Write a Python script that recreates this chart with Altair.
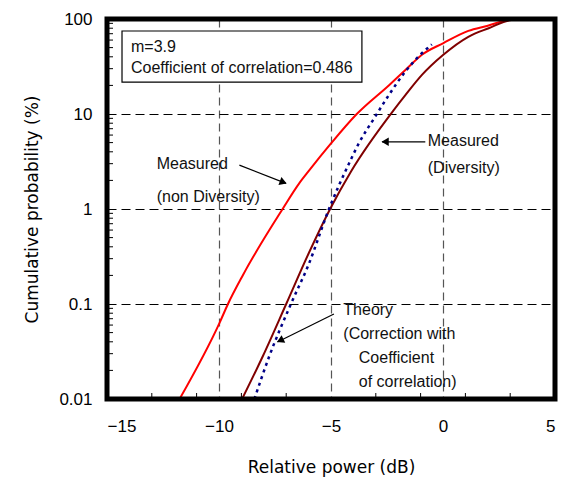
import altair as alt
import pandas as pd

# ---- data ----
red_x = [-11.76, -9.98, -9.6, -8.94, -7.16, -6.42, -6.0, -5.0, -3.85, -2.42, -1.68, -0.94, 0.0, 1.13, 2.0, 2.9, 3.7, 5.0]
red_y = [0.01, 0.063, 0.1, 0.2, 1.0, 1.86, 2.5, 4.9, 10, 20, 29, 42, 55.5, 75, 85, 97.6, 100, 100]

div_x = [-8.97, -8.05, -7.0, -6.0, -5.04, -4.1, -2.2, -1.68, -0.94, 0.0, 1.13, 2.04, 3.05, 3.8, 5.0]
div_y = [0.01, 0.028, 0.1, 0.34, 1.0, 2.5, 11, 15.8, 25.8, 41.8, 65, 80, 97.6, 100, 100]

th_x = [-8.42, -7.76, -6.79, -6.0, -5.09, -4.2, -3.76, -3.05, -2.42, -1.68, -1.01, -0.5]
th_y = [0.01, 0.028, 0.1, 0.26, 1.0, 3.0, 4.9, 9.2, 15.8, 28, 42, 54]

x_ticks = [-15, -10, -5, 0, 5]
y_ticks = [0.01, 0.1, 1, 10, 100]
x_minor = [-13, -11, -9, -7, -3, -1, 1, 3]
y_minor = [d * m for d in [0.01, 0.1, 1, 10] for m in range(2, 10)]

box_x = [-14.33]
box_x2 = [-3.62]
box_y = [74.8]
box_y2 = [21.7]

ann_text = ["m=3.9", "Coefficient of correlation=0.486", "Measured", "(non Diversity)",
            "Measured", "(Diversity)", "Theory", "(Correction with", "Coefficient", "of correlation)"]
ann_x = [-13.93, -13.93, -12.78, -12.78, -0.68, -0.68, -4.45, -4.45, -3.76, -3.76]
ann_y = [50.7, 30.5, 2.98, 1.35, 5.24, 2.72, 0.0865, 0.0483, 0.0272, 0.0152]

arr_x = [-9.09, -0.79, -4.87]
arr_y = [2.9, 5.1, 0.0785]
arr_x2 = [-7.01, -2.72, -7.39]
arr_y2 = [1.86, 5.1, 0.0398]
head_x = [-7.18, -2.53, -7.22]
head_y = [1.93, 5.1, 0.0418]
head_angle = [111, 270, 244]

FONT = "Liberation Sans"
TFONT = "DejaVu Sans"

xs = alt.Scale(domain=[-15, 5], nice=False, zero=False)
ys = alt.Scale(type="log", domain=[0.01, 100], nice=False)

def line_df(xv, yv):
    return pd.DataFrame({"x": xv, "y": yv, "i": list(range(len(xv)))})

base_x = alt.X("x:Q", scale=xs, title="Relative power (dB)",
               axis=alt.Axis(values=x_ticks, format="d", grid=True, gridDash=[8, 5],
                             gridColor="#555555", gridWidth=1.2, ticks=False, domain=False,
                             labelPadding=19, labelFontSize=17, labelFont=FONT,
                             labelColor="black", titleFont=TFONT, titleFontSize=17,
                             titleFontWeight="normal", titleColor="black", titlePadding=25))
base_y = alt.Y("y:Q", scale=ys, title="Cumulative probability (%)",
               axis=alt.Axis(values=y_ticks, grid=True, gridDash=[9, 5], gridColor="black",
                             gridWidth=1, ticks=False, domain=False,
                             labelExpr="datum.value >= 1 ? format(datum.value, 'd') : format(datum.value, '.2~f')",
                             labelPadding=15, labelFontSize=17, labelFont=FONT, labelColor="black",
                             titleFont=TFONT, titleFontSize=17, titleFontWeight="normal",
                             titleColor="black", titlePadding=17))

grid_layer = alt.Chart(pd.DataFrame({"x": [-15], "y": [0.01]})).mark_point(opacity=0).encode(x=base_x, y=base_y)

box = alt.Chart(pd.DataFrame({"x": box_x, "x2": box_x2, "y": box_y, "y2": box_y2})).mark_rect(
    fill="white", stroke="black", strokeWidth=1.2
).encode(x=alt.X("x:Q", scale=xs), x2="x2:Q", y=alt.Y("y:Q", scale=ys), y2="y2:Q")

red = alt.Chart(line_df(red_x, red_y)).mark_line(color="#ff0000", strokeWidth=2, clip=True, interpolate="monotone").encode(
    x=alt.X("x:Q", scale=xs), y=alt.Y("y:Q", scale=ys), order="i:Q")
div = alt.Chart(line_df(div_x, div_y)).mark_line(color="#800000", strokeWidth=2, clip=True, interpolate="monotone").encode(
    x=alt.X("x:Q", scale=xs), y=alt.Y("y:Q", scale=ys), order="i:Q")
th = alt.Chart(line_df(th_x, th_y)).mark_line(color="#000088", strokeWidth=2.5, strokeDash=[3, 4], clip=True, interpolate="monotone").encode(
    x=alt.X("x:Q", scale=xs), y=alt.Y("y:Q", scale=ys), order="i:Q")

xminor = alt.Chart(pd.DataFrame({"x": x_minor})).mark_rule(color="black", strokeWidth=1).encode(
    x=alt.X("x:Q", scale=xs), y=alt.value(380), y2=alt.value(374))
yminor = alt.Chart(pd.DataFrame({"y": y_minor})).mark_rule(color="black", strokeWidth=1).encode(
    y=alt.Y("y:Q", scale=ys), x=alt.value(0), x2=alt.value(6))

ann = alt.Chart(pd.DataFrame({"t": ann_text, "x": ann_x, "y": ann_y})).mark_text(
    align="left", baseline="middle", font=FONT, fontSize=16, color="#111111"
).encode(x=alt.X("x:Q", scale=xs), y=alt.Y("y:Q", scale=ys), text="t:N")

arrows = alt.Chart(pd.DataFrame({"x": arr_x, "y": arr_y, "x2": arr_x2, "y2": arr_y2})).mark_rule(
    color="black", strokeWidth=1.2
).encode(x=alt.X("x:Q", scale=xs), y=alt.Y("y:Q", scale=ys), x2="x2:Q", y2="y2:Q")

heads = alt.Chart(pd.DataFrame({"x": head_x, "y": head_y, "a": head_angle})).mark_point(
    shape="triangle", filled=True, color="black", size=70, opacity=1
).encode(x=alt.X("x:Q", scale=xs), y=alt.Y("y:Q", scale=ys), angle=alt.Angle("a:Q", scale=None))

frame = alt.Chart(pd.DataFrame({"k": [0]})).mark_rect(
    fillOpacity=0, stroke="black", strokeWidth=5
).encode(x=alt.value(0), x2=alt.value(448), y=alt.value(0), y2=alt.value(380))

chart = alt.layer(grid_layer, box, xminor, yminor, red, div, th, arrows, heads, ann, frame).properties(
    width=448, height=380,
    autosize=alt.AutoSizeParams(type="none"),
    padding={"left": 99, "top": 11, "right": 14, "bottom": 82},
).configure_view(strokeWidth=0).configure(background="white")

chart.save("out.html", embed_options={"renderer": "svg", "actions": False})
